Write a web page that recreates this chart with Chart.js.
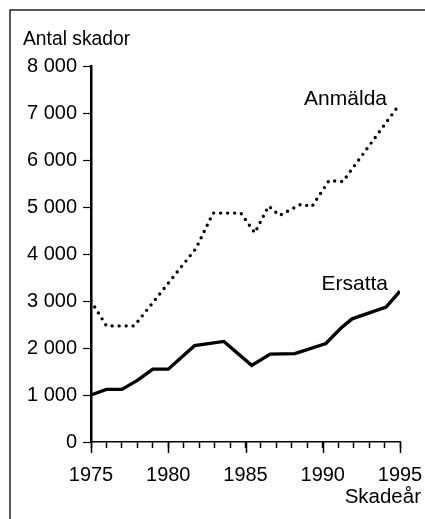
<!DOCTYPE html>
<html>
<head>
<meta charset="utf-8">
<script src="https://cdn.jsdelivr.net/npm/chart.js@4"></script>
<style>
  html, body { margin: 0; padding: 0; background: #fff; }
  #wrap { width: 425px; height: 519px; }
</style>
</head>
<body>
<div id="wrap"><canvas id="myChart" width="425" height="519"></canvas></div>
<script>
// Antal skador per skadeår
const anmaldaYears = [1975, 1976, 1977.8, 1981.8, 1982.9, 1984.7, 1985.6, 1986.5, 1987.2, 1988.6, 1989.3, 1990.4, 1991.3, 1995];
const anmaldaValues = [3000, 2470, 2470, 4120, 4870, 4870, 4450, 5020, 4820, 5060, 5010, 5560, 5540, 7200];

const ersattaYears = [1975, 1976, 1977, 1978, 1979, 1980, 1981.7, 1983.6, 1985.4, 1986.6, 1988.2, 1990.2, 1991.2, 1991.9, 1994.1, 1995];
const ersattaValues = [1000, 1120, 1120, 1310, 1550, 1550, 2050, 2140, 1630, 1870, 1880, 2095, 2430, 2620, 2870, 3210];

const seriesNames = ['Anmälda', 'Ersatta'];
const yAxisTitle = 'Antal skador';
const xAxisTitle = 'Skadeår';
const majorYears = [1975, 1980, 1985, 1990, 1995];

const FONT = '"Liberation Sans", Arial, sans-serif';

function toPoints(xs, ys) {
    return xs.map((x, i) => ({ x: x, y: ys[i] }));
}

const canvas = document.getElementById('myChart');

const decorations = {
    id: 'decorations',
    beforeDraw(chart) {
        const ctx = chart.ctx;
        ctx.save();
        // outer frame (top and left edges only are visible)
        ctx.strokeStyle = '#222';
        ctx.lineWidth = 1.5;
        ctx.beginPath();
        ctx.moveTo(10, chart.height);
        ctx.lineTo(10, 10);
        ctx.lineTo(chart.width, 10);
        ctx.stroke();
        ctx.restore();
    },
    afterDraw(chart) {
        const ctx = chart.ctx;
        const x = chart.scales.x;
        const y = chart.scales.y;
        const area = chart.chartArea;
        ctx.save();
        // longer ticks at every fifth year
        ctx.strokeStyle = '#000';
        ctx.lineWidth = 1.5;
        majorYears.forEach(yr => {
            const px = Math.round(x.getPixelForValue(yr)) + 0.5;
            ctx.beginPath();
            ctx.moveTo(px, area.bottom);
            ctx.lineTo(px, area.bottom + 11);
            ctx.stroke();
        });

        ctx.fillStyle = '#000';
        ctx.textBaseline = 'middle';

        ctx.font = '19.3px ' + FONT;
        ctx.textAlign = 'left';
        ctx.fillText(yAxisTitle, 23, 40);

        ctx.font = '20.5px ' + FONT;
        ctx.textAlign = 'right';
        ctx.fillText(xAxisTitle, 421, 497);

        ctx.font = '21px ' + FONT;
        const aLast = anmaldaYears.length - 1;
        ctx.fillText(seriesNames[0],
            x.getPixelForValue(anmaldaYears[aLast]) - 13,
            y.getPixelForValue(anmaldaValues[aLast]) - 4);

        const eLast = ersattaYears.length - 1;
        ctx.fillText(seriesNames[1],
            x.getPixelForValue(ersattaYears[eLast]) - 12,
            y.getPixelForValue(ersattaValues[eLast]) - 7);
        ctx.restore();
    }
};

const chart = new Chart(canvas, {
    type: 'line',
    data: {
        datasets: [{
            label: seriesNames[0],
            data: toPoints(anmaldaYears, anmaldaValues),
            borderColor: '#000',
            borderWidth: 3.4,
            borderDash: [0, 7],
            borderCapStyle: 'round',
            pointRadius: 0,
            tension: 0,
            fill: false,
        }, {
            label: seriesNames[1],
            data: toPoints(ersattaYears, ersattaValues),
            borderColor: '#000',
            borderWidth: 3.4,
            borderJoinStyle: 'miter',
            pointRadius: 0,
            tension: 0,
            fill: false,
        }]
    },
    options: {
        responsive: false,
        animation: false,
        events: [],
        layout: {
            padding: { left: 0, top: 66, right: 25, bottom: 0 }
        },
        scales: {
            x: {
                type: 'linear',
                min: 1975,
                max: 1995,
                afterFit: function (scale) {
                    scale.height = 77;
                    scale.paddingLeft = 0;
                    scale.paddingRight = 0;
                },
                border: { display: true, color: '#000', width: 1.5 },
                grid: {
                    drawOnChartArea: false,
                    drawTicks: true,
                    tickLength: 6,
                    tickColor: '#000',
                    tickWidth: 1.5,
                },
                ticks: {
                    stepSize: 1,
                    autoSkip: false,
                    maxRotation: 0,
                    padding: 15,
                    color: '#000',
                    font: { family: FONT, size: 20 },
                    callback: function (v) { return v % 5 === 0 ? String(v) : ''; }
                }
            },
            y: {
                min: 0,
                max: 8000,
                afterFit: function (scale) {
                    scale.width = 91;
                    scale.paddingTop = 0;
                    scale.paddingBottom = 0;
                },
                border: { display: true, color: '#000', width: 2.5 },
                grid: {
                    drawOnChartArea: false,
                    drawTicks: true,
                    tickLength: 8,
                    tickColor: '#000',
                    tickWidth: 1.2,
                },
                ticks: {
                    stepSize: 1000,
                    padding: 6,
                    color: '#000',
                    font: { family: FONT, size: 20 },
                    callback: function (v) { return v === 0 ? '0' : (v / 1000) + ' 000'; }
                }
            }
        },
        plugins: {
            legend: { display: false },
            tooltip: { enabled: false },
            title: { display: false }
        }
    },
    plugins: [decorations]
});
</script>
</body>
</html>
